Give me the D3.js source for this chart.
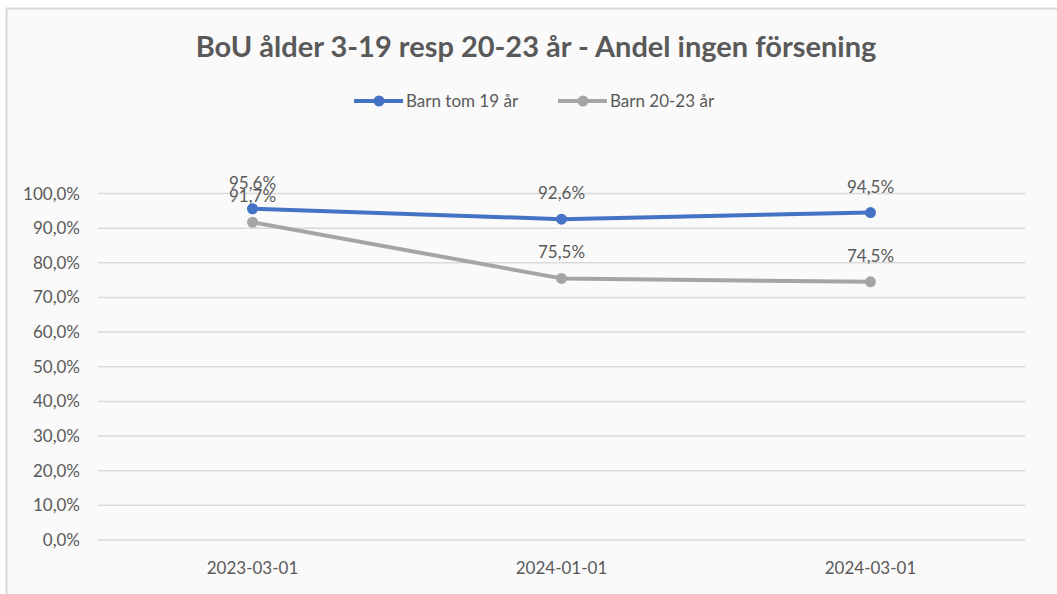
<!DOCTYPE html>
<html lang="sv">
<head>
<meta charset="utf-8">
<script src="https://cdn.jsdelivr.net/npm/d3@7"></script>
<style>
  body { margin: 0; background: #ffffff; }
  text { font-family: Lato, "Open Sans", sans-serif; }
</style>
</head>
<body>
<div id="chart"></div>
<script>
// data
var dates = ["2023-03-01", "2024-01-01", "2024-03-01"];
var barnTom19 = [95.6, 92.6, 94.5];
var barn2023 = [91.7, 75.5, 74.5];
var yTicks = [0, 10, 20, 30, 40, 50, 60, 70, 80, 90, 100];
var seriesNames = ["Barn tom 19 år", "Barn 20-23 år"];
var seriesColors = ["#4472C4", "#A5A5A5"];
var title = "BoU ålder 3-19 resp 20-23 år - Andel ingen försening";

var w = 1057, h = 594;
var svg = d3.select("#chart").append("svg")
  .attr("width", w).attr("height", h);

// chart frame
svg.append("rect")
  .attr("x", 6.5).attr("y", 8.5)
  .attr("width", w + 10).attr("height", h + 10)
  .attr("fill", "#fafafa")
  .attr("stroke", "#d9d9d9")
  .attr("stroke-width", 2);

var plotLeft = 98, plotRight = 1025, plotTop = 193.5, plotBottom = 540;

var x = d3.scaleBand().domain(dates).range([plotLeft, plotRight]);
var y = d3.scaleLinear().domain([0, 100]).range([plotBottom, plotTop]);
var cx = d => x(d) + x.bandwidth() / 2;

var fmt = function(v) { return d3.format(".1f")(v).replace(".", ",") + "%"; };

// gridlines
svg.append("g").selectAll("line")
  .data(yTicks).enter().append("line")
  .attr("x1", plotLeft).attr("x2", plotRight)
  .attr("y1", d => y(d)).attr("y2", d => y(d))
  .attr("stroke", "#d9d9d9").attr("stroke-width", 1.5);

// y axis labels
svg.append("g").selectAll("text")
  .data(yTicks).enter().append("text")
  .attr("x", 80).attr("y", d => y(d) + 6)
  .attr("text-anchor", "end")
  .attr("font-size", 17).attr("fill", "#595959")
  .text(d => fmt(d));

// x axis labels
svg.append("g").selectAll("text")
  .data(dates).enter().append("text")
  .attr("x", d => cx(d)).attr("y", 574)
  .attr("text-anchor", "middle")
  .attr("font-size", 17).attr("fill", "#595959")
  .text(d => d);

var series = [barnTom19, barn2023];
var line = d3.line()
  .x((d, i) => cx(dates[i]))
  .y(d => y(d));

// gray first so blue is on top
[1, 0].forEach(function(s) {
  svg.append("path")
    .datum(series[s])
    .attr("d", line)
    .attr("fill", "none")
    .attr("stroke", seriesColors[s])
    .attr("stroke-width", 4)
    .attr("stroke-linejoin", "round");
  svg.append("g").selectAll("circle")
    .data(series[s]).enter().append("circle")
    .attr("cx", (d, i) => cx(dates[i]))
    .attr("cy", d => y(d))
    .attr("r", 5.5)
    .attr("fill", seriesColors[s]);
});

// data labels
series.forEach(function(vals) {
  svg.append("g").selectAll("text")
    .data(vals).enter().append("text")
    .attr("x", (d, i) => cx(dates[i]))
    .attr("y", d => y(d) - 20)
    .attr("text-anchor", "middle")
    .attr("font-size", 17).attr("fill", "#595959")
    .text(d => fmt(d));
});

// title
svg.append("text")
  .attr("x", 536).attr("y", 57)
  .attr("text-anchor", "middle")
  .attr("font-size", 29).attr("font-weight", "bold")
  .attr("fill", "#595959")
  .text(title);

// legend
var legendX = [354, 558];
seriesNames.forEach(function(name, i) {
  var g = svg.append("g").attr("transform", "translate(" + legendX[i] + ",101)");
  g.append("line").attr("x1", 0).attr("x2", 49)
    .attr("stroke", seriesColors[i]).attr("stroke-width", 4);
  g.append("circle").attr("cx", 25).attr("r", 5.5).attr("fill", seriesColors[i]);
  g.append("text").attr("x", 52).attr("y", 6)
    .attr("font-size", 17).attr("fill", "#595959")
    .text(name);
});
</script>
</body>
</html>
